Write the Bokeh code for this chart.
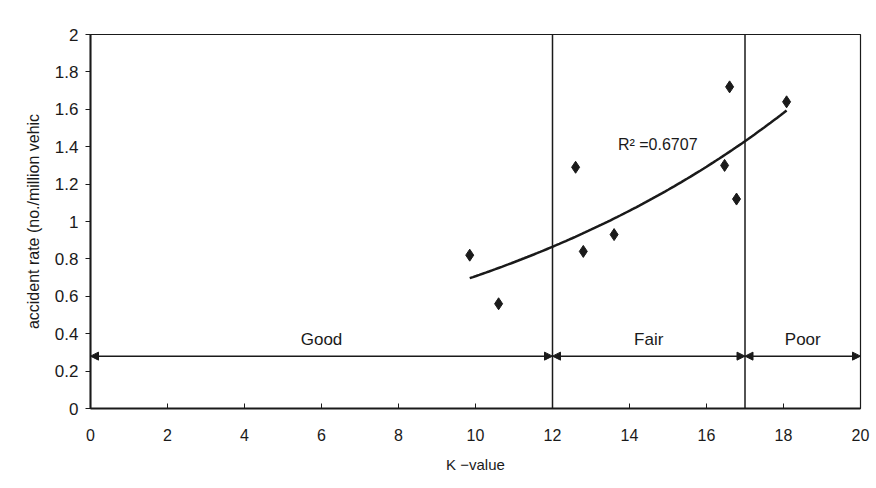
import numpy as np
from bokeh.plotting import figure
from bokeh.models import (Range1d, FixedTicker, Arrow, NormalHead, Span, Label)
from bokeh.embed import file_html
from bokeh.resources import INLINE

# ---- data ----
k_values = [9.85, 10.6, 12.6, 12.8, 13.6, 16.47, 16.6, 16.78, 18.08]
accident_rates = [0.82, 0.56, 1.29, 0.84, 0.93, 1.30, 1.72, 1.12, 1.64]
zone_edges = [0, 12, 17, 20]
zone_labels = ["Good", "Fair", "Poor"]
zone_arrow_y = 0.28
zone_label_y = 0.37
x_ticks = [0, 2, 4, 6, 8, 10, 12, 14, 16, 18, 20]
y_ticks = [0, 0.2, 0.4, 0.6, 0.8, 1, 1.2, 1.4, 1.6, 1.8, 2]
y_tick_labels = ["0", "0.2", "0.4", "0.6", "0.8", "1", "1.2", "1.4", "1.6", "1.8", "2"]
r2_text = "R\u00b2 =0.6707"
r2_pos = (13.7, 1.41)

FONT = "Liberation Sans"
INK = "#1a1a1a"

p = figure(width=876, height=488, output_backend="svg", toolbar_location=None,
           x_range=Range1d(0, 20), y_range=Range1d(0, 2),
           min_border_left=90, min_border_right=16, min_border_top=34, min_border_bottom=80)
p.background_fill_color = "white"
p.border_fill_color = "white"
p.grid.visible = False
p.outline_line_color = INK
p.outline_line_width = 1.2

# axes
p.xaxis.ticker = FixedTicker(ticks=x_ticks)
p.yaxis.ticker = FixedTicker(ticks=y_ticks)
p.yaxis.major_label_overrides = {t: l for t, l in zip(y_ticks, y_tick_labels)}
p.xaxis.axis_label = "K \u2212value"
p.yaxis.axis_label = "accident rate (no./million vehic"
for ax in (p.xaxis, p.yaxis):
    ax.axis_line_color = INK
    ax.axis_line_width = 2
    ax.major_tick_line_color = INK
    ax.minor_tick_line_color = None
    ax.major_label_text_font = FONT
    ax.major_label_text_color = INK
    ax.axis_label_text_font = FONT
    ax.axis_label_text_font_style = "normal"
    ax.axis_label_text_color = INK
p.xaxis.axis_label_text_font_size = "15px"
p.yaxis.axis_label_text_font_size = "16px"
p.xaxis.major_tick_in = 5
p.xaxis.major_tick_out = 0
p.xaxis.major_label_standoff = 20
p.xaxis.major_label_text_font_size = "16px"
p.xaxis.axis_label_standoff = 12
p.yaxis.major_tick_in = 0
p.yaxis.major_tick_out = 5
p.yaxis.major_label_standoff = 7
p.yaxis.major_label_text_font_size = "17px"
p.yaxis.axis_label_standoff = 10

# zone boundaries
for edge in zone_edges[1:-1]:
    p.add_layout(Span(location=edge, dimension="height", line_color=INK, line_width=1.5))

# zone arrows and labels
for i, lab in enumerate(zone_labels):
    x0, x1 = zone_edges[i], zone_edges[i + 1]
    p.add_layout(Arrow(x_start=x0, y_start=zone_arrow_y, x_end=x1, y_end=zone_arrow_y,
                       line_color=INK, line_width=1.5,
                       start=NormalHead(size=8, fill_color=INK, line_color=INK),
                       end=NormalHead(size=8, fill_color=INK, line_color=INK)))
    p.add_layout(Label(x=(x0 + x1) / 2, y=zone_label_y, text=lab, text_align="center",
                       text_baseline="middle", text_font=FONT, text_font_size="17px",
                       text_color=INK))

# exponential trend line (fit of ln(y) on x, as in a spreadsheet trendline)
b, ln_a = np.polyfit(k_values, np.log(accident_rates), 1)
xs = np.linspace(min(k_values), max(k_values), 100)
p.line(xs, np.exp(ln_a) * np.exp(b * xs), line_color=INK, line_width=2.5)

# points
p.scatter(k_values, accident_rates, marker="diamond", size=12, fill_color=INK, line_color=INK)

p.add_layout(Label(x=r2_pos[0], y=r2_pos[1], text=r2_text, text_align="left",
                   text_baseline="middle", text_font=FONT, text_font_size="16px",
                   text_color=INK))

# outer frame of the picture (an empty label box centred on the canvas)
p.add_layout(Label(x=439, y=243, x_units="canvas", y_units="canvas", anchor="center",
                   text=" ", text_font_size="1px", padding=(433, 433, 238, 238),
                   border_line_color="#555555", border_line_width=1.2,
                   background_fill_color=None))

open("out.html", "w").write(file_html(p, INLINE))
